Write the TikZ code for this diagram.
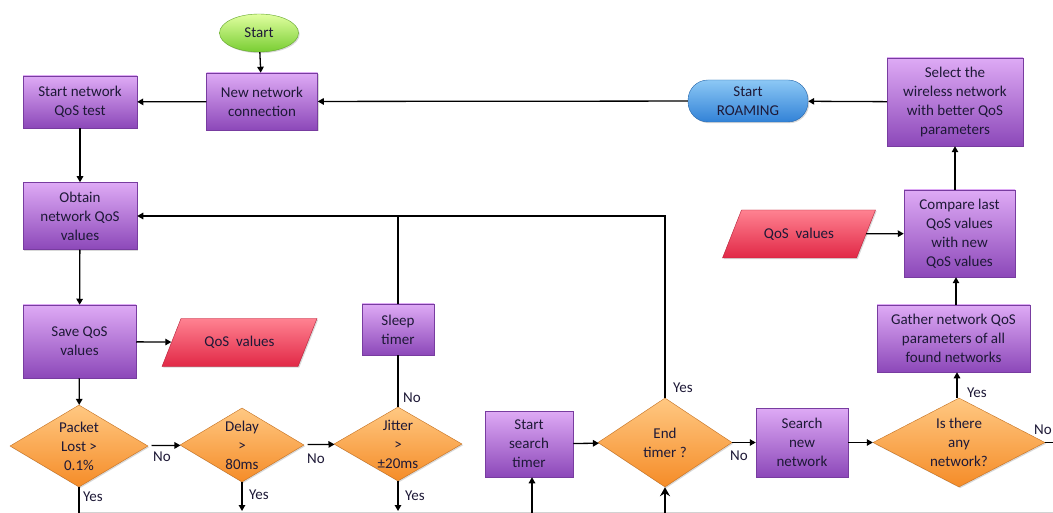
\documentclass[tikz,border=0pt]{standalone}
\usepackage{fontspec}
\setmainfont{Carlito}
\usetikzlibrary{shapes.geometric,arrows.meta,shadows}
\definecolor{txt}{RGB}{30,25,55}
\definecolor{ptop}{RGB}{222,170,245}
\definecolor{pbot}{RGB}{140,72,185}
\definecolor{pborder}{RGB}{120,60,160}
\definecolor{otop}{RGB}{255,200,130}
\definecolor{obot}{RGB}{245,140,40}
\definecolor{rtop}{RGB}{255,130,145}
\definecolor{rbot}{RGB}{225,40,70}
\definecolor{gtop}{RGB}{225,255,160}
\definecolor{gbot}{RGB}{120,205,50}
\definecolor{btop}{RGB}{140,200,245}
\definecolor{bbot}{RGB}{50,130,215}
\tikzset{
  base/.style={text=txt, align=center, font=\fontsize{15}{19}\selectfont, inner sep=1pt,
    drop shadow={shadow xshift=1.2pt,shadow yshift=-1.2pt,opacity=0.3}},
  proc/.style={base, rectangle, draw=pborder, line width=0.5pt, top color=ptop, bottom color=pbot},
  decis/.style={diamond, draw=obot!80!black, line width=0.4pt, top color=otop, bottom color=obot, inner sep=0pt,
    drop shadow={shadow xshift=1.2pt,shadow yshift=-1.2pt,opacity=0.3}},
  dtext/.style={text=txt, align=center, font=\fontsize{15}{19}\selectfont, inner sep=0pt},
  datafill/.style={draw=rbot!80!black, line width=0.4pt, top color=rtop, bottom color=rbot,
    drop shadow={shadow xshift=1.2pt,shadow yshift=-1.2pt,opacity=0.3}},
  datab/.style={text=txt, align=center, font=\fontsize{15}{19}\selectfont, inner sep=0pt, rectangle},
  lbl/.style={text=txt, font=\fontsize{15}{17}\selectfont, inner sep=0pt},
  arr/.style={draw=black, line width=1.3pt, -{Triangle[length=6pt,width=6.5pt]}},
  ln/.style={draw=black, line width=1.3pt},
  thickarr/.style={draw=black, line width=2.4pt, -{Stealth[length=9pt,width=10pt,inset=3pt]}}
}
\begin{document}
\begin{tikzpicture}[x=1pt,y=-1pt]
\useasboundingbox[fill=white] (0,0) rectangle (1053,513);

% parallelogram bodies (data)
\coordinate (q1c) at (239.5,342.5);
\coordinate (q2c) at (799,234);
\path[datafill] ([shift={(-77.5,24)}]q1c) -- ([shift={(-58.5,-24)}]q1c) -- ([shift={(77.5,-24)}]q1c) -- ([shift={(58.5,24)}]q1c) -- cycle;
\path[datafill] ([shift={(-76.5,24)}]q2c) -- ([shift={(-57.5,-24)}]q2c) -- ([shift={(76.5,-24)}]q2c) -- ([shift={(57.5,24)}]q2c) -- cycle;

% nodes
\node[base, ellipse, draw=gbot!80!black, line width=0.4pt, top color=gtop, bottom color=gbot, minimum width=79pt, minimum height=38pt] (start) at (259,33) {Start};
\node[proc, minimum width=111pt, minimum height=57pt] (newc) at (262,101.5) {New network\\connection};
\node[proc, minimum width=114pt, minimum height=52pt] (sntest) at (80,102) {Start network\\QoS test};
\node[base, rectangle, rounded corners=20pt, draw=bbot!80!black, line width=0.4pt, top color=btop, bottom color=bbot, minimum width=120pt, minimum height=42pt] (roam) at (748,101) {Start\\ROAMING};
\node[proc, minimum width=136pt, minimum height=88pt] (sel) at (955,102) {Select the\\wireless network\\with better QoS\\parameters};
\node[proc, minimum width=114pt, minimum height=67pt] (obt) at (80,216) {Obtain\\network QoS\\values};
\node[proc, minimum width=113pt, minimum height=73pt] (save) at (79.5,341.5) {Save QoS\\values};
\node[datab, minimum width=136pt, minimum height=48pt] (qos1) at (q1c) {QoS~~values};
\node[proc, minimum width=72pt, minimum height=51pt] (sleep) at (398,329.5) {Sleep\\timer};
\node[proc, minimum width=111pt, minimum height=87pt] (cmp) at (959.5,233.5) {Compare last\\QoS values\\with new\\QoS values};
\node[datab, minimum width=134pt, minimum height=48pt] (qos2) at (q2c) {QoS~~values};
\node[proc, minimum width=153pt, minimum height=67pt] (gath) at (953.5,338.5) {Gather network QoS\\parameters of all\\found networks};

\node[decis, minimum width=138pt, minimum height=82pt] (pl) at (79,446) {};
\node[dtext] (plt) at (pl) {Packet\\Lost >\\0.1\%};
\node[decis, minimum width=124pt, minimum height=74pt] (delay) at (242,445) {};
\node[dtext] (delayt) at (delay) {Delay\\>\\80ms};
\node[decis, minimum width=128pt, minimum height=74pt] (jit) at (398,444) {};
\node[dtext] (jitt) at (jit) {Jitter\\>\\±20ms};
\node[proc, minimum width=88pt, minimum height=66pt] (sst) at (529,444) {Start\\search\\timer};
\node[decis, minimum width=134pt, minimum height=89pt] (endt) at (665,442.5) {};
\node[dtext] (endtt) at (endt) {End\\timer ?};
\node[proc, minimum width=92pt, minimum height=69pt] (search) at (802,442.5) {Search\\new\\network};
\node[decis, minimum width=172pt, minimum height=89pt] (isth) at (959,442.5) {};
\node[dtext] (istht) at (isth) {Is there\\any\\network?};

% free ends at the cut bottom edge
\coordinate (b1) at (79,513);
\coordinate (b2) at (242,511);
\coordinate (b3) at (398,511);
\coordinate (b4) at (532,513);
\coordinate (b5) at (665,513);
\coordinate (b6) at (1053,442.5);
\coordinate (g1) at (79,512);
\coordinate (g2) at (1053,512);

\draw[gray!35, line width=1pt] (g1) -- (g2);

% connectors
\draw[arr] (start) -- (newc);
\draw[arr] (newc) -- (sntest);
\draw[arr] (roam) -- (newc);
\draw[arr] (sel) -- (roam);
\draw[arr] (cmp.north -| sel.south) -- (sel.south);
\draw[arr] (qos2) -- (cmp);
\draw[arr] (gath.north -| 956,0) -- (956,0 |- cmp.south);
\draw[arr] (isth.north -| 957,0) -- (957,0 |- gath.south);
\draw[arr] (search) -- (isth);
\draw[arr] (endt) -- (search);
\draw[arr] (sst) -- (endt);
\draw[arr] (endt.north) |- (obt.east);
\draw[ln] (sleep.north) -- (sleep.north |- obt.east);
\draw[ln] (jit.north) -- (sleep.south);
\draw[arr] (sntest) -- (obt);
\draw[arr] (obt) -- (save);
\draw[arr] (save) -- (qos1);
\draw[arr] (save) -- (pl);
\draw[arr, shorten <=4pt] (pl) -- (delay);
\draw[arr, shorten <=4pt] (delay) -- (jit);
\draw[ln] (pl.south) -- (b1);
\draw[arr] (delay.south) -- (b2);
\draw[arr] (jit.south) -- (b3);
\draw[arr] (b4) -- (b4 |- sst.south);
\draw[thickarr] (b5) -- (endt.south);
\draw[ln] (isth.east) -- (b6);

% labels
\node[lbl] (l1) at (162,457) {No};
\node[lbl] (l2) at (316,459) {No};
\node[lbl] (l3) at (93,497) {Yes};
\node[lbl] (l4) at (259,495) {Yes};
\node[lbl] (l5) at (415,496) {Yes};
\node[lbl] (l6) at (412,398) {No};
\node[lbl] (l7) at (683,388) {Yes};
\node[lbl] (l8) at (739,456) {No};
\node[lbl] (l9) at (977,393) {Yes};
\node[lbl, anchor=east] (l10) at (1052,430) {No};
\end{tikzpicture}
\end{document}
